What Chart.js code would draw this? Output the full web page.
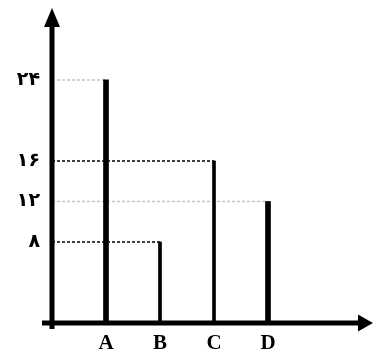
<!DOCTYPE html>
<html>
<head>
<meta charset="utf-8">
<script src="https://cdn.jsdelivr.net/npm/chart.js@4/dist/chart.umd.min.js"></script>
<style>
  html, body { margin: 0; padding: 0; background: #fff; }
  #wrap { width: 374px; height: 353px; position: relative; }
</style>
</head>
<body>
<div id="wrap"><canvas id="c" width="374" height="353"></canvas></div>
<script>
// ---- data ----
const categories = ['A', 'B', 'C', 'D'];
const categoryPositions = [1, 2, 3, 4];
const values = [24, 8, 16, 12];
const yTickValues = [8, 12, 16, 24];
const yTickLabels = ['۸', '۱۲', '۱۶', '۲۴'];

// ---- styles (not data) ----
const thickBar = [true, false, false, true];
const guideColors = ['#c4c4c4', '#000000', '#000000', '#c4c4c4'];

const thickData = [], thinData = [];
values.forEach((v, i) => {
  const pt = { x: categoryPositions[i], y: v };
  (thickBar[i] ? thickData : thinData).push(pt);
});

const guideSets = values.map((v, i) => ({
  type: 'line',
  data: [{ x: 0, y: v }, { x: categoryPositions[i], y: v }],
  borderColor: guideColors[i],
  borderWidth: 1.5,
  borderDash: [3, 2],
  pointRadius: 0,
  fill: false,
  order: 2
}));

const axesPlugin = {
  id: 'arrowAxes',
  afterDatasetsDraw(chart) {
    const ctx = chart.ctx;
    const xs = chart.scales.x, ys = chart.scales.y;
    const x0 = xs.getPixelForValue(0);
    const y0 = ys.getPixelForValue(0);
    ctx.save();
    ctx.fillStyle = '#000';
    // y axis
    ctx.fillRect(x0 - 2.5, 24, 5, y0 + 6 - 24);
    ctx.beginPath();
    ctx.moveTo(x0, 8);
    ctx.lineTo(x0 - 8, 27);
    ctx.lineTo(x0 + 8, 27);
    ctx.closePath();
    ctx.fill();
    // x axis
    ctx.fillRect(42, y0 - 2.5, 360 - 42, 5);
    ctx.beginPath();
    ctx.moveTo(373, y0);
    ctx.lineTo(358, y0 - 8.5);
    ctx.lineTo(358, y0 + 8.5);
    ctx.closePath();
    ctx.fill();
    ctx.restore();
  }
};

new Chart(document.getElementById('c'), {
  type: 'bar',
  data: {
    datasets: [
      { type: 'bar', data: thickData, backgroundColor: '#000', barThickness: 5, grouped: false, order: 1 },
      { type: 'bar', data: thinData, backgroundColor: '#000', barThickness: 3, grouped: false, order: 1 },
      ...guideSets
    ]
  },
  options: {
    responsive: false,
    animation: false,
    events: [],
    layout: { padding: { top: 8, right: 2, left: 0, bottom: 0 } },
    plugins: { legend: { display: false }, tooltip: { enabled: false } },
    scales: {
      x: {
        type: 'linear',
        offset: false,
        min: 0,
        max: 5.926,
        grid: { display: false, drawTicks: false, offset: false },
        border: { display: false },
        afterBuildTicks(scale) { scale.ticks = categoryPositions.map(v => ({ value: v })); },
        afterFit(scale) { scale.height = 30; scale.paddingLeft = 0; scale.paddingRight = 0; },
        ticks: {
          padding: 8,
          color: '#000',
          font: { family: 'Liberation Serif', size: 21, weight: 'bold' },
          callback(v) { const i = categoryPositions.indexOf(v); return i >= 0 ? categories[i] : ''; }
        }
      },
      y: {
        type: 'linear',
        min: 0,
        max: 31.1,
        grid: { display: false, drawTicks: false },
        border: { display: false },
        afterBuildTicks(scale) { scale.ticks = yTickValues.map(v => ({ value: v })); },
        afterFit(scale) { scale.width = 52; scale.paddingTop = 0; scale.paddingBottom = 0; },
        ticks: {
          padding: 12,
          color: '#000',
          font: { family: 'DejaVu Sans', size: 19, weight: 'bold' },
          callback(v) { const i = yTickValues.indexOf(v); return i >= 0 ? yTickLabels[i] : ''; }
        }
      }
    }
  },
  plugins: [axesPlugin]
});
</script>
</body>
</html>
